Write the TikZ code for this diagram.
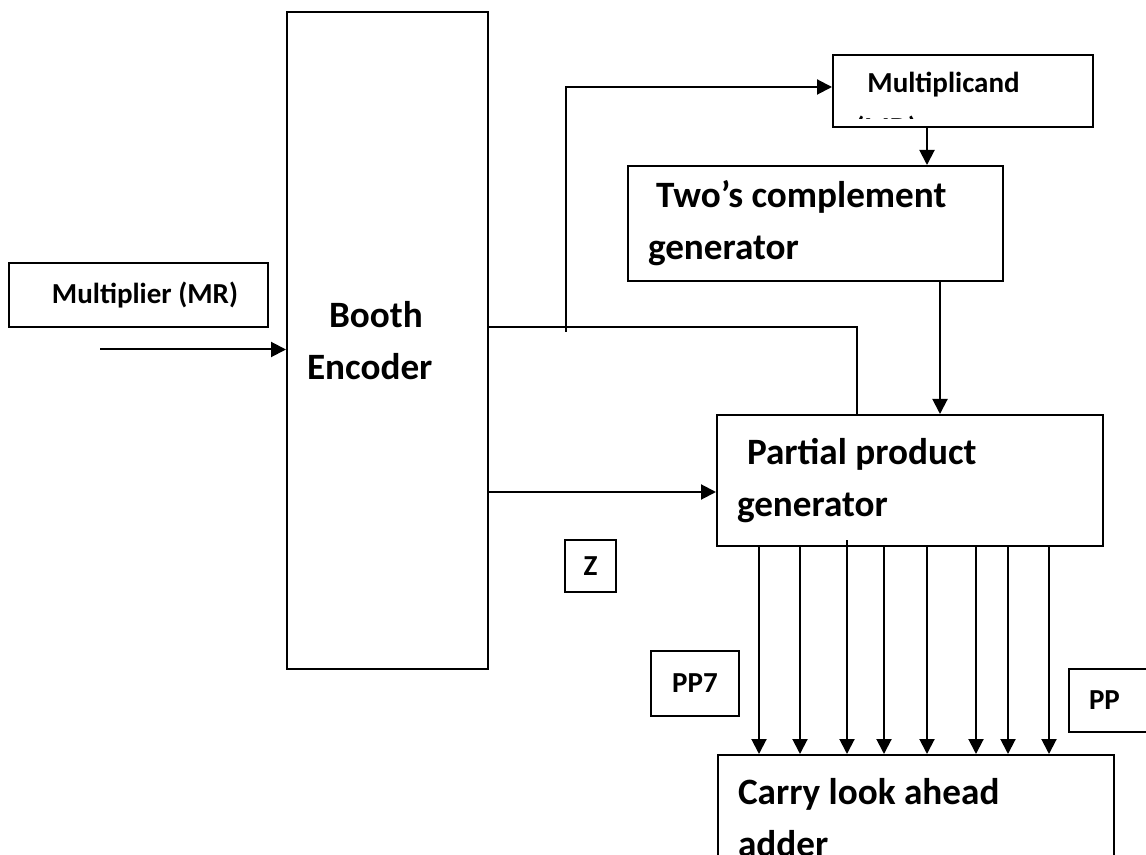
\documentclass[tikz,border=0pt]{standalone}
\usepackage{fontspec}
\setmainfont{Carlito}
\usetikzlibrary{arrows.meta}
\usetikzlibrary{calc}

\begin{document}
\begin{tikzpicture}[x=0.5pt,y=-0.5pt,
	box/.style={draw,line width=1pt,inner sep=0pt},
	big/.style={font=\fontsize{18.6}{26}\selectfont\bfseries},
	small/.style={font=\fontsize{14.5}{21.5}\selectfont\bfseries},
	lft/.style={align=flush left,inner xsep=10pt,text width=#1},
	wire/.style={line width=1pt},
	arr/.style={line width=1pt,-{Triangle[length=7.5pt,width=7.5pt]}}]
	\useasboundingbox (0,0) rectangle (1146,855);
	\clip (0,0) rectangle (1146,855);
	\node [box,big,lft=80.5pt,minimum height=328.5pt] (booth) at (387.5,340.5) {\hspace*{11pt}Booth\\Encoder};
	\node [box,small,minimum width=129.5pt,minimum height=32pt] (mr) at (138.5,295) {\hspace*{6.5pt}Multiplier (MR)};
	\node [box,minimum width=130pt,minimum height=36pt] (md) at (963,91) {};
	\begin{scope}
		\clip (md.north west) rectangle ($(md.south east)+(0,-9)$);
		\node [small,anchor=base west,inner sep=0pt] (md1) at (867,93) {Multiplicand};
		\node [small,anchor=base west,inner sep=0pt] (md2) at (855,138) {(MD)};
	\end{scope}
	\node [box,big,lft=167.5pt,minimum height=57.5pt] (tc) at (815.5,223.5) {\hspace*{4pt}Two’s complement\\generator};
	\node [box,big,lft=173pt,minimum height=65.5pt] (ppg) at (910,480.5) {\hspace*{5pt}Partial product\\generator};
	\node [box,big,lft=178pt,minimum height=62.5pt] (cla) at (916,817.5) {Carry look ahead\\adder};
	\node [box,small,minimum width=25.5pt,minimum height=26pt] (z) at (590.5,566) {Z};
	\node [box,small,minimum width=44pt,minimum height=32.5pt] (pp7) at (695,683.5) {PP7};
	\node [box,small,lft=44pt,minimum height=31.5pt] (pp) at (1133,700.5) {PP};

	\coordinate (mrin) at (100,349.5);
	\draw [arr] (mrin) -- (mrin -| booth.west);
	\coordinate (tap) at (857,327);
	\draw [wire] (tap -| booth.east) -- (tap) -- (tap |- ppg.north);
	\coordinate (fork) at (566,332);
	\draw [arr] (fork) |- ([yshift=2pt]md.west);
	\coordinate (mdout) at ([xshift=-18pt]md.south);
	\draw [arr] (mdout) -- (mdout |- tc.north);
	\coordinate (tcout) at ([xshift=62.25pt]tc.south);
	\draw [arr] (tcout) -- (tcout |- ppg.north);
	\coordinate (ppin) at ([yshift=-5.75pt]ppg.west);
	\draw [arr] (ppin -| booth.east) -- (ppin);
	\foreach \x/\up in {759/0,800/0,847/7,884/0,927/0,976/0,1008/0,1049/0} {
		\path (\x,0) coordinate (col);
		\draw [arr] ($(ppg.south -| col)+(0,-\up)$) -- (cla.north -| col);
	}
\end{tikzpicture}
\end{document}
